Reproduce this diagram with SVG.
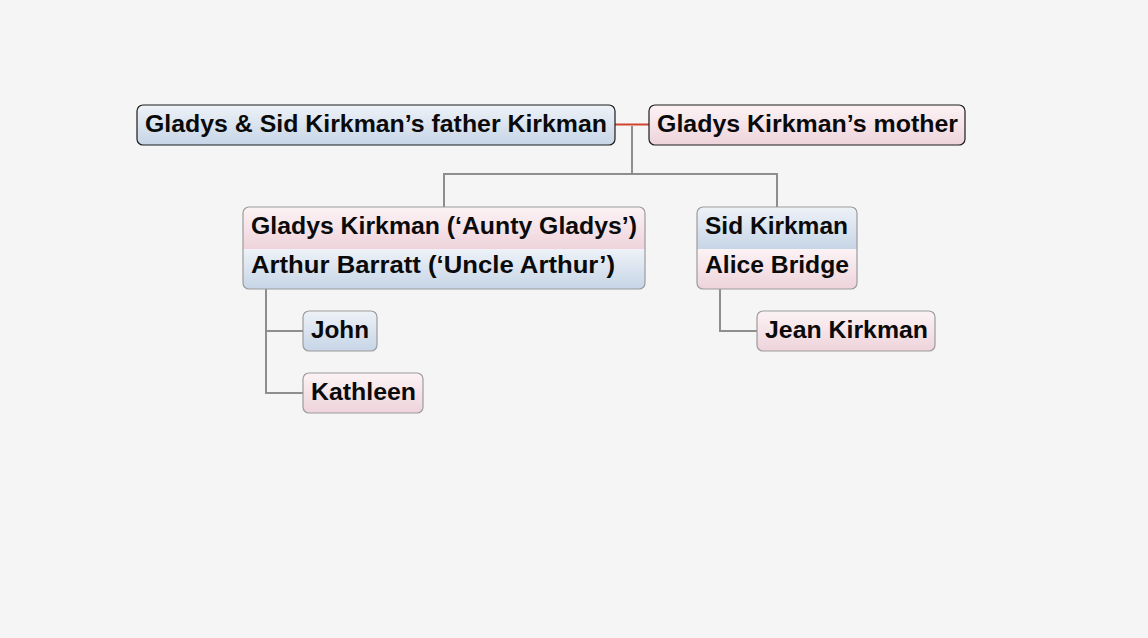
<svg xmlns="http://www.w3.org/2000/svg" width="1148" height="638" viewBox="0 0 1148 638">
<defs>
<linearGradient id="blue" x1="0" y1="0" x2="0" y2="1">
<stop offset="0" stop-color="#eef2f8"/>
<stop offset="1" stop-color="#c6d5e6"/>
</linearGradient>
<linearGradient id="pink" x1="0" y1="0" x2="0" y2="1">
<stop offset="0" stop-color="#fcf3f5"/>
<stop offset="1" stop-color="#eed3db"/>
</linearGradient>
<clipPath id="c1"><rect x="243" y="207" width="402" height="82" rx="6"/></clipPath>
<clipPath id="c2"><rect x="697" y="207" width="160" height="82" rx="6"/></clipPath>
</defs>
<style>
.t{font-family:"Liberation Sans",Arial,sans-serif;font-weight:bold;font-size:23px;fill:#0a0a0a}
.b1{stroke:#1c1c1c;stroke-width:1.2}
.b2{fill:none;stroke:#9c9c9c;stroke-width:1.2}
.c{fill:none;stroke:#8e8e8e;stroke-width:2}
</style>
<rect width="1148" height="638" fill="#f5f5f5"/>
<g id="connectors">
<line x1="615" y1="124.5" x2="649" y2="124.5" stroke="#d2442f" stroke-width="2"/>
<polyline class="c" points="632,126 632,174 444,174 444,207"/>
<polyline class="c" points="632,174 777,174 777,207"/>
<polyline class="c" points="266,289 266,393 303,393"/>
<line class="c" x1="266" y1="331" x2="303" y2="331"/>
<polyline class="c" points="720,289 720,331 757,331"/>
</g>
<g id="father">
<rect class="b1" x="137" y="105" width="478" height="40" rx="6" fill="url(#blue)"/>
<text class="t" x="145" y="132" textLength="462" lengthAdjust="spacingAndGlyphs">Gladys &amp; Sid Kirkman’s father Kirkman</text>
</g>
<g id="mother">
<rect class="b1" x="649" y="105" width="316" height="40" rx="6" fill="url(#pink)"/>
<text class="t" x="657" y="132" textLength="301" lengthAdjust="spacingAndGlyphs">Gladys Kirkman’s mother</text>
</g>
<g id="gladys-arthur">
<g clip-path="url(#c1)">
<rect x="243" y="207" width="402" height="42" fill="url(#pink)"/>
<rect x="243" y="249" width="402" height="40" fill="url(#blue)"/>
</g>
<rect class="b2" x="243" y="207" width="402" height="82" rx="6"/>
<text class="t" x="251" y="234" textLength="386" lengthAdjust="spacingAndGlyphs">Gladys Kirkman (‘Aunty Gladys’)</text>
<text class="t" x="251" y="273" textLength="364" lengthAdjust="spacingAndGlyphs">Arthur Barratt (‘Uncle Arthur’)</text>
</g>
<g id="sid-alice">
<g clip-path="url(#c2)">
<rect x="697" y="207" width="160" height="42" fill="url(#blue)"/>
<rect x="697" y="249" width="160" height="40" fill="url(#pink)"/>
</g>
<rect class="b2" x="697" y="207" width="160" height="82" rx="6"/>
<text class="t" x="705" y="234" textLength="143" lengthAdjust="spacingAndGlyphs">Sid Kirkman</text>
<text class="t" x="705" y="273" textLength="144" lengthAdjust="spacingAndGlyphs">Alice Bridge</text>
</g>
<g id="john">
<rect class="b2" x="303" y="311" width="74" height="40" rx="6" style="fill:url(#blue)"/>
<text class="t" x="311" y="338" textLength="58" lengthAdjust="spacingAndGlyphs">John</text>
</g>
<g id="kathleen">
<rect class="b2" x="303" y="373" width="120" height="40" rx="6" style="fill:url(#pink)"/>
<text class="t" x="311" y="400" textLength="105" lengthAdjust="spacingAndGlyphs">Kathleen</text>
</g>
<g id="jean">
<rect class="b2" x="757" y="311" width="178" height="40" rx="6" style="fill:url(#pink)"/>
<text class="t" x="765" y="338" textLength="163" lengthAdjust="spacingAndGlyphs">Jean Kirkman</text>
</g>
</svg>
